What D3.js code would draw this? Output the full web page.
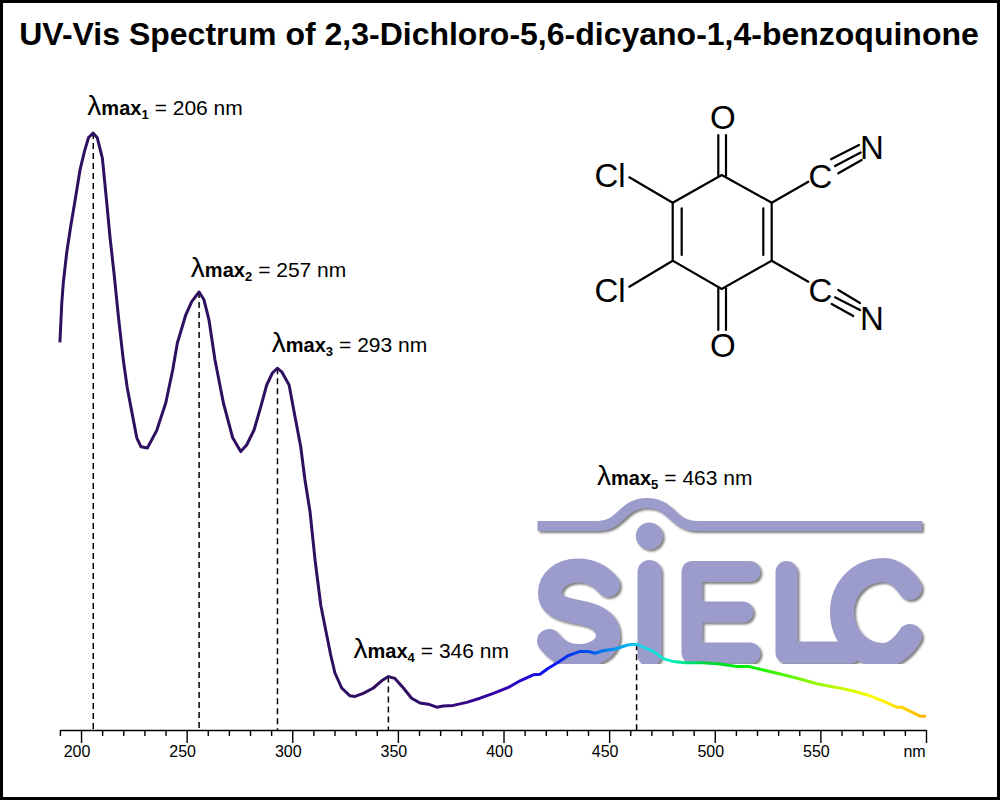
<!DOCTYPE html>
<html><head><meta charset="utf-8">
<script src="https://cdn.jsdelivr.net/npm/d3@7"></script>
<style>html,body{margin:0;padding:0;background:#fff}svg{display:block}text{font-family:"Liberation Sans",Arial,sans-serif;fill:#000}</style>
</head><body><svg id="c" width="1000" height="800"></svg>
<script>
const titleText = "UV-Vis Spectrum of 2,3-Dichloro-5,6-dicyano-1,4-benzoquinone";
const wavelengths = [190,190.9,191.6,193.2,195.1,197.2,199.5,201.6,203.5,205.7,207.7,210.1,212.2,213.7,215.6,217.7,220,221.9,224,226.4,228.4,231.4,235.8,240.1,243.4,245.6,249.6,252.4,255.9,258.2,260.6,263.4,267.4,271.8,275.6,278.4,281.9,285.1,287.9,290.6,292.9,295,298.5,301.3,304,306,308.4,310.8,313.5,315.8,318.2,320.2,323.4,327.3,329.7,333.6,338.4,342.3,345.5,348.6,352.6,356.5,360.5,364.4,368.4,371.5,376.2,382.6,388.9,395.2,402.3,407.8,414.1,417.3,421.2,425.9,430.7,436.2,440.1,443.3,447.2,452.8,459.1,463,467,470.9,475.6,480.4,485.9,494.6,502.5,510.4,515.9,523,532.5,540.4,548.3,557.7,565.6,572.7,579.8,586.1,588.5,597.2,600];
const absorbance = [.646,.712,.745,.795,.839,.883,.933,.964,.987,.995,.987,.953,.878,.822,.762,.689,.617,.570,.531,.487,.472,.470,.499,.545,.600,.645,.692,.714,.730,.717,.683,.617,.545,.487,.464,.475,.500,.539,.575,.595,.603,.597,.575,.522,.472,.417,.364,.283,.208,.167,.125,.095,.070,.057,.056,.061,.070,.082,.089,.086,.070,.053,.045,.043,.038,.040,.041,.046,.053,.061,.071,.082,.092,.093,.103,.113,.124,.131,.131,.128,.132,.135,.142,.143,.137,.131,.119,.114,.112,.112,.110,.106,.106,.100,.092,.085,.077,.071,.065,.058,.048,.038,.038,.023,.023];
const colorNm = [190,350,375,400,420,440,455,465,478,495,515,550,575,590,600];
const colorHex = ["#2f0f60","#2f0f60","#320a78","#3300b0","#1010f0","#0050f0","#00a0f0","#20d0e8","#00f0c8","#00d040","#00f000","#a0f800","#ffff00","#ffd000","#ffb000"];
const peakNames = ["1","2","3","4","5"];
const peakLabels = ["206","257","293","346","463"];
const peakNm = [205.8,255.9,293,345.5,463];
const peakAbs = [.995,.730,.603,.089,.143];
const labelNm = [203.0,252.0,290.3,329.0,444.3];
const labelAbs = [1.025,.755,.63,.12,.408];

const svg = d3.select("#c");
const x = d3.scaleLinear().domain([190,600]).range([59.9,926]);
const y = d3.scaleLinear().domain([0,1]).range([730,130]);

svg.append("rect").attr("x",1.5).attr("y",1.5).attr("width",997).attr("height",797).attr("fill","#fff").attr("stroke","#000").attr("stroke-width",3);

svg.append("text").attr("x",499).attr("y",45).attr("text-anchor","middle").attr("font-size",32).attr("font-weight","bold").text(titleText);

// logo watermark
const defs = svg.append("defs");
const f = defs.append("filter").attr("id","sh").attr("x","-5%").attr("y","-5%").attr("width","110%").attr("height","110%");
f.append("feDropShadow").attr("dx",2).attr("dy",2).attr("stdDeviation",1.2).attr("flood-color","#555").attr("flood-opacity",.75);
const logo = svg.append("g").attr("filter","url(#sh)").attr("fill","none").attr("stroke","#9c9ccc").attr("stroke-linecap","round").attr("stroke-linejoin","round");
logo.append("path").attr("stroke-width",10).attr("stroke-linecap","butt").attr("d","M537.5,526 L598,526 C621,526 622,503 647,503 C672,503 672,526 696,526 L922,526");
logo.append("circle").attr("cx",649.3).attr("cy",536).attr("r",13.5).attr("fill","#9c9ccc").attr("stroke","none");
logo.append("path").attr("stroke-width",24).attr("d","M608,585 C600,575 590,570.5 578,570.5 C562,570.5 550,580 550,593 C550,606 562,609 578,612 C596,615 608,622 608,636 C608,648 594,656 578,656 C565,656 556,650 549,641");
logo.append("path").attr("stroke-width",24).attr("d","M649.5,572 L649.5,654.5");
logo.append("path").attr("stroke-width",21).attr("d","M750,571.5 L692,571.5 L692,653 L750,653 M692,612 L743,612");
logo.append("path").attr("stroke-width",22).attr("d","M786.5,572 L786.5,652.5 L850,652.5");
logo.append("path").attr("stroke-width",24).attr("d","M910,588 C903,577 893,570 884,570 C860,570 842,588 842,612 C842,636 860,655 884,655 C893,655 903,647 910,636");

// molecule
const mol = svg.append("g").attr("stroke","#000").attr("stroke-width",2.2).attr("fill","none").attr("stroke-linecap","round");
const molPaths = ["M721.7,175 L771.7,202.7 L771.7,260.7 L721.7,289 L672.7,260.7 L672.7,202.7 Z",
 "M681.7,208.3 V255","M763.3,208.3 V255","M718.3,135 V176","M726,135 V176","M718.3,330 V288","M726,330 V288",
 "M629.3,177.3 L672.7,202.7","M629.3,286.7 L672.7,260.7","M771.7,202.7 L808.3,181.7","M771.7,260.7 L808.3,281.7",
 "M831,159.3 L859,145","M835,166 L860.7,152.5","M838.3,173.3 L861.7,160",
 "M838.3,290 L860,303","M835,297.3 L860,310","M831.7,304 L853.3,316"];
molPaths.forEach(d=>mol.append("path").attr("d",d));
const atoms = [["O",710,129],["O",710,357],["Cl",594.5,187],["Cl",594.5,302],["C",808.5,187.5],["C",808.5,302],["N",860,158.5],["N",860,330]];
svg.append("g").selectAll("text").data(atoms).join("text").attr("font-size",33).attr("x",d=>d[1]).attr("y",d=>d[2]).text(d=>d[0]);

// dashed peak lines
svg.append("g").selectAll("line").data(peakNm).join("line")
  .attr("x1",d=>x(d)).attr("x2",d=>x(d)).attr("y1",(d,i)=>y(peakAbs[i])).attr("y2",y(0))
  .attr("stroke","#000").attr("stroke-width",1.5).attr("stroke-dasharray","6,4");

// spectrum line
const grad = defs.append("linearGradient").attr("id","spec").attr("gradientUnits","userSpaceOnUse").attr("x1",x(190)).attr("x2",x(600)).attr("y1",0).attr("y2",0);
colorNm.forEach((n,i)=>grad.append("stop").attr("offset",(n-190)/410).attr("stop-color",colorHex[i]));
const line = d3.line().x((d,i)=>x(wavelengths[i])).y(d=>y(d)).curve(d3.curveLinear);
svg.append("path").attr("d",line(absorbance)).attr("fill","none").attr("stroke","url(#spec)").attr("stroke-width",3).attr("stroke-linejoin","round");

// axis
const ax = svg.append("g").attr("transform",`translate(0,${y(0)})`).call(
  d3.axisBottom(x).tickValues(d3.range(190,601,10)).tickSize(6).tickSizeOuter(0).tickPadding(14)
    .tickFormat(d=>d===600?"nm":(d%50===0?d:"")));
ax.select(".domain").attr("stroke","#000").attr("stroke-width",1.6);
ax.selectAll(".tick line").attr("stroke","#000").attr("stroke-width",1.4).attr("y2",d=>(d%50===0?13:6));
ax.selectAll(".tick text").attr("font-size",16).attr("font-family",'"Liberation Sans",Arial,sans-serif').attr("fill","#000")
  .attr("dx",d=>d===600?-12:-4.5).attr("y",null).attr("dy",null).attr("transform","translate(0,27)");

// peak labels
const lab = svg.append("g").selectAll("text").data(peakLabels).join("text").attr("x",(d,i)=>x(labelNm[i])).attr("y",(d,i)=>y(labelAbs[i]));
lab.append("tspan").attr("font-size",28).text("λ");
lab.append("tspan").attr("font-size",20).attr("font-weight","bold").text("max");
lab.append("tspan").attr("font-size",13).attr("font-weight","bold").attr("dy",4).text((d,i)=>peakNames[i]);
lab.append("tspan").attr("font-size",21).attr("dy",-4).attr("dx",6).text(d=>"= "+d+" nm");
</script></body></html>
